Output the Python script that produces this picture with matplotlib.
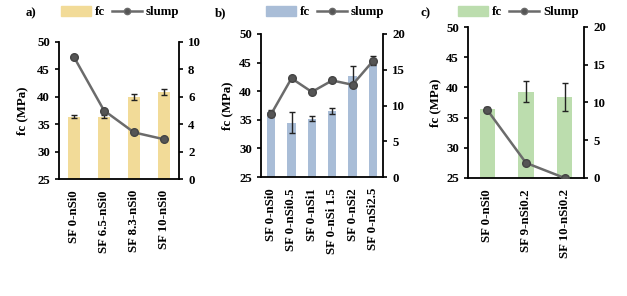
import numpy as np
import matplotlib
matplotlib.use('Agg')
import matplotlib.pyplot as plt
from matplotlib.patches import Patch
from matplotlib.lines import Line2D

plt.rcParams['font.family'] = 'Liberation Serif'
plt.rcParams['font.weight'] = 'bold'
plt.rcParams['font.size'] = 9.3

# panel a
cats_a = ['SF 0-nSi0', 'SF 6.5-nSi0', 'SF 8.3-nSi0', 'SF 10-nSi0']
fc_a = [36.4, 36.4, 40.0, 40.9]
err_a = [0.25, 0.3, 0.5, 0.5]
slump_a = [8.9, 5.0, 3.4, 2.9]

# panel b
cats_b = ['SF 0-nSi0', 'SF 0-nSi0.5', 'SF 0-nSi1', 'SF 0-nSi 1.5', 'SF 0-nSi2', 'SF 0-nSi2.5']
fc_b = [36.3, 34.5, 35.2, 36.6, 42.6, 45.3]
err_b = [0.4, 1.8, 0.4, 0.5, 1.75, 0.8]
slump_b = [8.8, 13.8, 11.9, 13.5, 12.9, 16.2]

# panel c
cats_c = ['SF 0-nSi0', 'SF 9-nSi0.2', 'SF 10-nSi0.2']
fc_c = [36.5, 39.3, 38.4]
err_c = [0.2, 1.75, 2.3]
slump_c = [9.0, 2.0, 0.0]

panels = [
    ('a)', cats_a, fc_a, err_a, slump_a, 'slump', '#F2DB98', (0, 10, 2),
     [59, 179, 42, 179], 26, 22, 62),
    ('b)', cats_b, fc_b, err_b, slump_b, 'slump', '#A9BDD7', (0, 20, 5),
     [261, 383, 34, 177], 215, 227, 267),
    ('c)', cats_c, fc_c, err_c, slump_c, 'Slump', '#BCDDAE', (0, 20, 5),
     [468, 584, 27, 178], 420, 435, 459),
]

W, H = 627, 296
fig = plt.figure(figsize=(W / 100, H / 100), dpi=100)

for label, cats, fc, err, slump, sname, color, (rmin, rmax, rstep), box, lx, ylx, legx in panels:
    l, r, t, b = box
    ax = fig.add_axes([l / W, 1 - b / H, (r - l) / W, (b - t) / H])
    x = np.arange(len(cats))
    ax.bar(x, fc, width=0.4, color=color, zorder=1)
    ax.errorbar(x, fc, yerr=err, fmt='none', ecolor='#222222', elinewidth=1,
                capsize=2.5, capthick=1, zorder=2)
    ax.set_ylim(25, 50)
    ax.set_yticks(np.arange(25, 51, 5))
    ax.set_xlim(-0.5, len(cats) - 0.5)
    ax.set_xticks(x)
    ax.set_xticklabels(cats, rotation=90)
    ax.tick_params(axis='x', length=0, pad=8)
    ax.tick_params(axis='y', direction='out', length=3, width=1.2)
    for s in ['top', 'right']:
        ax.spines[s].set_visible(False)
    for s in ['left', 'bottom']:
        ax.spines[s].set_linewidth(1.3)
    fig.text(ylx / W, 1 - ((t + b) / 2) / H, 'fc (MPa)', rotation=90,
             ha='center', va='center')

    ax2 = ax.twinx()
    ax2.plot(x, slump, color='#6b6b6b', lw=1.8, marker='o', ms=5.5,
             mfc='#555555', mec='#444444', zorder=3)
    ax2.set_ylim(rmin, rmax)
    ax2.set_yticks(np.arange(rmin, rmax + 1, rstep))
    ax2.tick_params(axis='y', direction='out', length=3, width=1.2)
    for s in ['top', 'left', 'bottom']:
        ax2.spines[s].set_visible(False)
    ax2.spines['right'].set_linewidth(1.3)

    fig.text(lx / W, 1 - 13 / H, label, ha='left', va='center')
    handles = [Patch(color=color), Line2D([], [], color='#6b6b6b', lw=1.8,
                                          marker='o', ms=4.5, mfc='#555555')]
    fig.legend(handles, ['fc', sname], loc='center left',
               bbox_to_anchor=(legx / W - 0.012, 1 - 12 / H), ncol=2,
               frameon=False, handlelength=2.3, handleheight=0.8,
               handletextpad=0.3, columnspacing=0.6, borderpad=0)

fig.savefig('out.png', dpi=100)
